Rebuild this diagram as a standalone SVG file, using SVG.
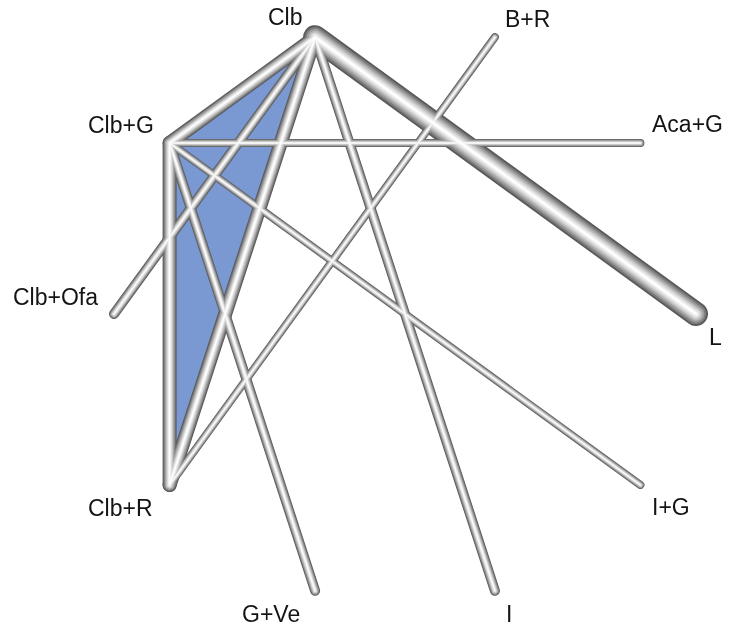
<svg xmlns="http://www.w3.org/2000/svg" xmlns:xlink="http://www.w3.org/1999/xlink" width="730" height="628" viewBox="0 0 730 628">
  <style>
    text { font-family: "Liberation Sans", Arial, sans-serif; font-size: 23px; fill: #141414; }
    .geom { fill: none; stroke-linecap: round; }
    .edge { mix-blend-mode: lighten; }
    .k1 { stroke: #5a5a5a; } .k2 { stroke: #7c7c7c; } .k3 { stroke: #9c9c9c; }
    .k4 { stroke: #bababa; } .k5 { stroke: #d6d6d6; } .k6 { stroke: #ececec; } .k7 { stroke: #ffffff; }
    .w24 .k1{stroke-width:24} .w24 .k2{stroke-width:20.4} .w24 .k3{stroke-width:16.8} .w24 .k4{stroke-width:13.2} .w24 .k5{stroke-width:9.6} .w24 .k6{stroke-width:6} .w24 .k7{stroke-width:2.4}
    .w14 .k1{stroke-width:14} .w14 .k2{stroke-width:11.9} .w14 .k3{stroke-width:9.8} .w14 .k4{stroke-width:7.7} .w14 .k5{stroke-width:5.6} .w14 .k6{stroke-width:3.5} .w14 .k7{stroke-width:1.4}
    .w10 .k1{stroke-width:10} .w10 .k2{stroke-width:8.5} .w10 .k3{stroke-width:7} .w10 .k4{stroke-width:5.5} .w10 .k5{stroke-width:4} .w10 .k6{stroke-width:2.5} .w10 .k7{stroke-width:1}
    .w8 .k1{stroke-width:8} .w8 .k2{stroke-width:6.8} .w8 .k3{stroke-width:5.6} .w8 .k4{stroke-width:4.4} .w8 .k5{stroke-width:3.2} .w8 .k6{stroke-width:2} .w8 .k7{stroke-width:0.8}
  </style>
  <defs>
    <!-- edge geometry; nodes sit on a circle centred at (405,314), r = 291 -->
    <line id="g-clb-l" class="geom" x1="315.1" y1="37.2" x2="696" y2="314"/>
    <line id="g-clb-clbg" class="geom" x1="315.1" y1="37.2" x2="169.6" y2="143"/>
    <line id="g-clb-clbr" class="geom" x1="315.1" y1="37.2" x2="169.6" y2="485"/>
    <line id="g-clbg-clbr" class="geom" x1="169.6" y1="143" x2="169.6" y2="485"/>
    <line id="g-clb-ofa" class="geom" x1="315.1" y1="37.2" x2="114" y2="314"/>
    <line id="g-clb-i" class="geom" x1="315.1" y1="37.2" x2="494.9" y2="590.8"/>
    <line id="g-clbg-gve" class="geom" x1="169.6" y1="143" x2="315.1" y2="590.8"/>
    <line id="g-clbg-ig" class="geom" x1="169.6" y1="143" x2="640.4" y2="485"/>
    <line id="g-clbr-br" class="geom" x1="169.6" y1="485" x2="494.9" y2="37.2"/>
    <line id="g-clbg-acag" class="geom" x1="169.6" y1="143" x2="640.4" y2="143"/>
  </defs>

  <rect width="730" height="628" fill="#ffffff"/>

  <!-- shaded closed loop Clb / Clb+G / Clb+R -->
  <polygon id="loop" points="315.1,37.2 169.6,143 169.6,485" fill="#7a98d2"/>

  <g id="connectors" style="isolation:isolate">
    <g id="edge-clb-l" class="edge w24">
      <use xlink:href="#g-clb-l" class="k1"/><use xlink:href="#g-clb-l" class="k2"/><use xlink:href="#g-clb-l" class="k3"/><use xlink:href="#g-clb-l" class="k4"/><use xlink:href="#g-clb-l" class="k5"/><use xlink:href="#g-clb-l" class="k6"/><use xlink:href="#g-clb-l" class="k7"/>
    </g>
    <g id="edge-clb-clbg" class="edge w14">
      <use xlink:href="#g-clb-clbg" class="k1"/><use xlink:href="#g-clb-clbg" class="k2"/><use xlink:href="#g-clb-clbg" class="k3"/><use xlink:href="#g-clb-clbg" class="k4"/><use xlink:href="#g-clb-clbg" class="k5"/><use xlink:href="#g-clb-clbg" class="k6"/><use xlink:href="#g-clb-clbg" class="k7"/>
    </g>
    <g id="edge-clb-clbr" class="edge w14">
      <use xlink:href="#g-clb-clbr" class="k1"/><use xlink:href="#g-clb-clbr" class="k2"/><use xlink:href="#g-clb-clbr" class="k3"/><use xlink:href="#g-clb-clbr" class="k4"/><use xlink:href="#g-clb-clbr" class="k5"/><use xlink:href="#g-clb-clbr" class="k6"/><use xlink:href="#g-clb-clbr" class="k7"/>
    </g>
    <g id="edge-clbg-clbr" class="edge w14">
      <use xlink:href="#g-clbg-clbr" class="k1"/><use xlink:href="#g-clbg-clbr" class="k2"/><use xlink:href="#g-clbg-clbr" class="k3"/><use xlink:href="#g-clbg-clbr" class="k4"/><use xlink:href="#g-clbg-clbr" class="k5"/><use xlink:href="#g-clbg-clbr" class="k6"/><use xlink:href="#g-clbg-clbr" class="k7"/>
    </g>
    <g id="edge-clb-ofa" class="edge w10">
      <use xlink:href="#g-clb-ofa" class="k1"/><use xlink:href="#g-clb-ofa" class="k2"/><use xlink:href="#g-clb-ofa" class="k3"/><use xlink:href="#g-clb-ofa" class="k4"/><use xlink:href="#g-clb-ofa" class="k5"/><use xlink:href="#g-clb-ofa" class="k6"/><use xlink:href="#g-clb-ofa" class="k7"/>
    </g>
    <g id="edge-clb-i" class="edge w10">
      <use xlink:href="#g-clb-i" class="k1"/><use xlink:href="#g-clb-i" class="k2"/><use xlink:href="#g-clb-i" class="k3"/><use xlink:href="#g-clb-i" class="k4"/><use xlink:href="#g-clb-i" class="k5"/><use xlink:href="#g-clb-i" class="k6"/><use xlink:href="#g-clb-i" class="k7"/>
    </g>
    <g id="edge-clbg-gve" class="edge w10">
      <use xlink:href="#g-clbg-gve" class="k1"/><use xlink:href="#g-clbg-gve" class="k2"/><use xlink:href="#g-clbg-gve" class="k3"/><use xlink:href="#g-clbg-gve" class="k4"/><use xlink:href="#g-clbg-gve" class="k5"/><use xlink:href="#g-clbg-gve" class="k6"/><use xlink:href="#g-clbg-gve" class="k7"/>
    </g>
    <g id="edge-clbg-ig" class="edge w8">
      <use xlink:href="#g-clbg-ig" class="k1"/><use xlink:href="#g-clbg-ig" class="k2"/><use xlink:href="#g-clbg-ig" class="k3"/><use xlink:href="#g-clbg-ig" class="k4"/><use xlink:href="#g-clbg-ig" class="k5"/><use xlink:href="#g-clbg-ig" class="k6"/><use xlink:href="#g-clbg-ig" class="k7"/>
    </g>
    <g id="edge-clbr-br" class="edge w8">
      <use xlink:href="#g-clbr-br" class="k1"/><use xlink:href="#g-clbr-br" class="k2"/><use xlink:href="#g-clbr-br" class="k3"/><use xlink:href="#g-clbr-br" class="k4"/><use xlink:href="#g-clbr-br" class="k5"/><use xlink:href="#g-clbr-br" class="k6"/><use xlink:href="#g-clbr-br" class="k7"/>
    </g>
    <g id="edge-clbg-acag" class="edge w8">
      <use xlink:href="#g-clbg-acag" class="k1"/><use xlink:href="#g-clbg-acag" class="k2"/><use xlink:href="#g-clbg-acag" class="k3"/><use xlink:href="#g-clbg-acag" class="k4"/><use xlink:href="#g-clbg-acag" class="k5"/><use xlink:href="#g-clbg-acag" class="k6"/><use xlink:href="#g-clbg-acag" class="k7"/>
    </g>
  </g>

  <g id="node-clb"><text x="268" y="25">Clb</text></g>
  <g id="node-br"><text x="505" y="27">B+R</text></g>
  <g id="node-clbg"><text x="88" y="133">Clb+G</text></g>
  <g id="node-acag"><text x="652" y="132">Aca+G</text></g>
  <g id="node-clbofa"><text x="13" y="305">Clb+Ofa</text></g>
  <g id="node-l"><text x="709" y="345">L</text></g>
  <g id="node-clbr"><text x="88" y="516">Clb+R</text></g>
  <g id="node-ig"><text x="652" y="515">I+G</text></g>
  <g id="node-gve"><text x="242" y="622">G+Ve</text></g>
  <g id="node-i"><text x="506" y="622">I</text></g>
</svg>
